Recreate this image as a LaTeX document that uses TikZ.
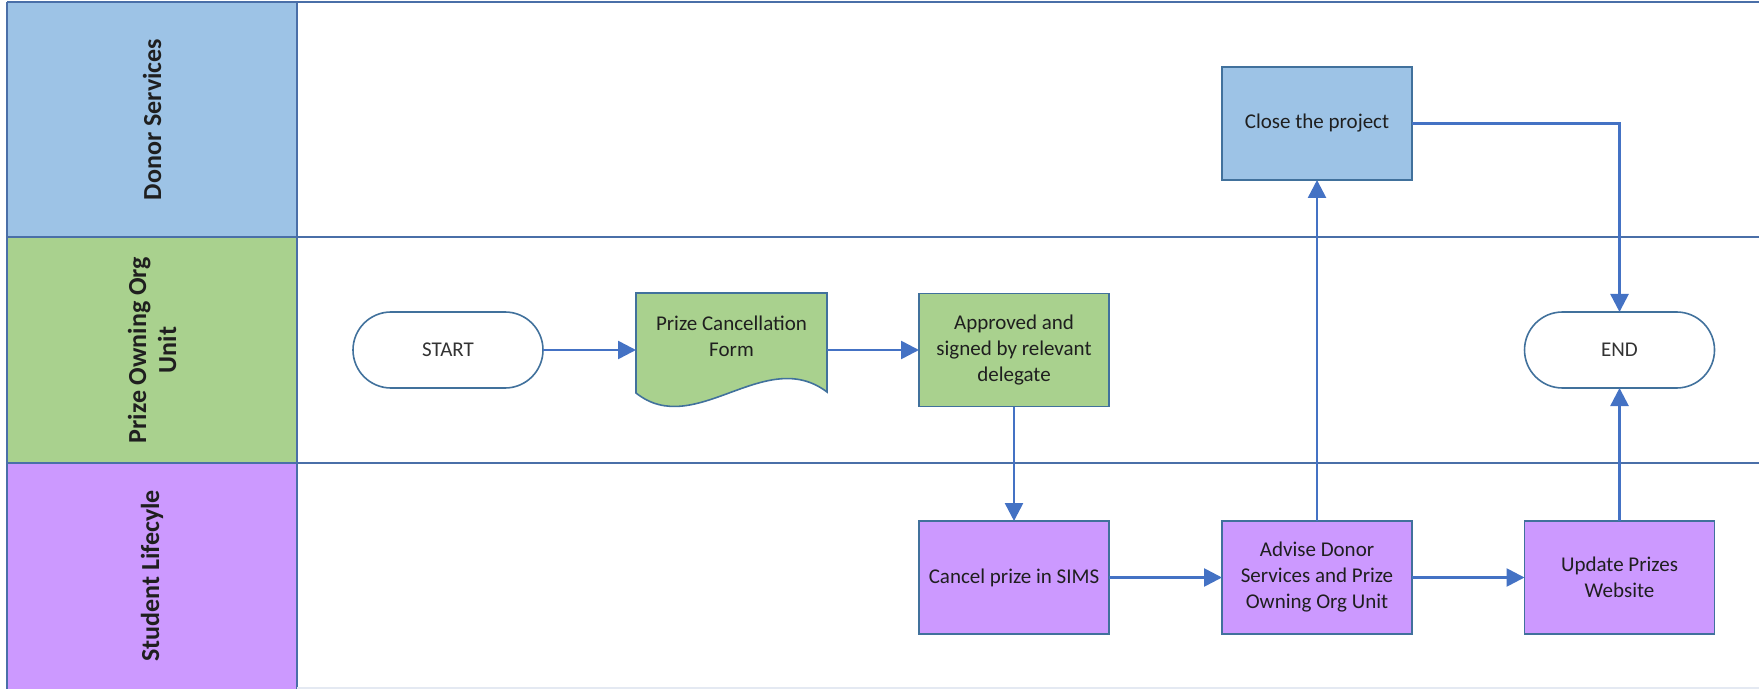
\documentclass[tikz,border=0pt]{standalone}
\usepackage{fontspec}
\setmainfont{Carlito}
\usetikzlibrary{arrows.meta,shapes.misc}

\definecolor{donorblue}{HTML}{9DC3E6}
\definecolor{ownergreen}{HTML}{A9D18E}
\definecolor{lifepurple}{HTML}{CC99FF}
\definecolor{shapeedge}{HTML}{41719C}
\definecolor{laneedge}{HTML}{4A6FA8}
\definecolor{flowblue}{HTML}{4472C4}
\definecolor{inktext}{HTML}{1F1F1F}

\begin{document}
\begin{tikzpicture}[x=0.5pt,y=-0.5pt,
  every node/.style={inner sep=0pt, outer sep=0pt, text=inktext},
  lanetitle/.style={font=\fontsize{13}{15}\selectfont\bfseries, rotate=90, align=center},
  stepfont/.style={font=\fontsize{10.5}{13}\selectfont, align=center},
  procbox/.style={stepfont, draw=shapeedge, line width=0.8pt,
    minimum width=95pt, minimum height=56.5pt},
  terminal/.style={stepfont, rounded rectangle, draw=shapeedge, line width=0.8pt,
    fill=white, minimum width=95pt, minimum height=38pt, text=black!80},
  flow/.style={draw=flowblue, line width=1.3pt, -{Triangle[length=9pt,width=9pt]}},
  lane/.style={draw=laneedge, line width=1.1pt}
]
\useasboundingbox (0,0) rectangle (1759,689);

% swimlane header column
\fill[donorblue]  (7,2)   rectangle (297,237);
\fill[ownergreen] (7,237) rectangle (297,463);
\fill[lifepurple] (7,463) rectangle (297,689);

% swimlane frame
\draw[lane] (7,2) -- (1759,2);
\draw[lane] (7,237) -- (1759,237);
\draw[lane] (7,463) -- (1759,463);
\draw[lane] (7,2) -- (7,689);
\draw[lane] (297,2) -- (297,689);
\draw[draw=laneedge!15, line width=1pt] (297,688) -- (1759,688);

% lane titles
\node[lanetitle] (donorlane) at (152,119.5) {Donor Services};
\node[lanetitle] (ownerlane) at (152,350) {Prize Owning Org\\Unit};
\node[lanetitle] (lifelane)  at (152,576) {Student Lifecyle};

% Prize Owning Org Unit lane
\node[terminal] (start) at (448,350) {START};

\path[draw=shapeedge, fill=ownergreen, line width=0.8pt]
  (636,293) -- (827,293) -- (827,392)
  .. controls (765,345) and (695,440) .. (636,393) -- cycle;
\node[minimum width=95.5pt, minimum height=57pt] (form) at (731.5,350) {};
\node[stepfont] (formtext) at (731.5,336) {Prize Cancellation\\Form};

\node[procbox, fill=ownergreen] (approved) at (1014,350)
  {Approved and\\signed by relevant\\delegate};

\node[terminal] (end) at (1619.5,350) {END};

% Donor Services lane
\node[procbox, fill=donorblue] (close) at (1317,123.5) {Close the project};

% Student Lifecyle lane
\node[procbox, fill=lifepurple] (cancel) at (1014,577.5) {Cancel prize in SIMS};
\node[procbox, fill=lifepurple] (advise) at (1317,577.5)
  {Advise Donor\\Services and Prize\\Owning Org Unit};
\node[procbox, fill=lifepurple] (update) at (1619.5,577.5) {Update Prizes\\Website};

% connectors
\draw[flow] (start.east) -- (form.west);
\draw[flow] (form.east) -- (approved.west);
\draw[flow] (approved.south) -- (cancel.north);
\draw[flow] (cancel.east) -- (advise.west);
\draw[flow] (advise.east) -- (update.west);
\draw[flow] (advise.north) -- (close.south);
\draw[flow] (close.east) -| (end.north);
\draw[flow] (update.north) -- (end.south);
\end{tikzpicture}
\end{document}
